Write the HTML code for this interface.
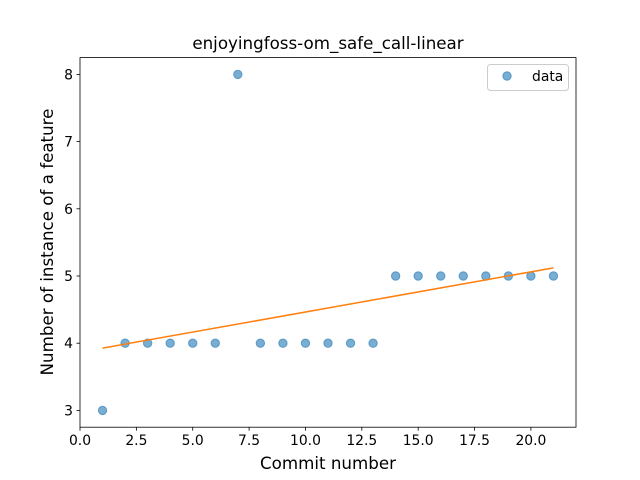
<!DOCTYPE html>
<html><head><meta charset="utf-8"><style>
body{margin:0;background:#fff}
svg{display:block;font-family:"DejaVu Sans","Liberation Sans",sans-serif}
</style></head><body>
<svg id="chart" width="640" height="480"></svg>
<script>
const commits=[1,2,3,4,5,6,7,8,9,10,11,12,13,14,15,16,17,18,19,20,21];
const counts=[3,4,4,4,4,4,8,4,4,4,4,4,4,5,5,5,5,5,5,5,5];
const xTicks=[0,2.5,5,7.5,10,12.5,15,17.5,20];
const xTickLabels=["0.0","2.5","5.0","7.5","10.0","12.5","15.0","17.5","20.0"];
const yTicks=[3,4,5,6,7,8];
const yTickLabels=["3","4","5","6","7","8"];
const L=80,R=576,T=57.6,B=427.2;
const xMin=0,xMax=22,yMin=2.75,yMax=8.25;
const sx=v=>L+(v-xMin)/(xMax-xMin)*(R-L);
const sy=v=>B-(v-yMin)/(yMax-yMin)*(B-T);
const NS="http://www.w3.org/2000/svg";
const svg=document.getElementById('chart');
function mk(t,a,p){const e=document.createElementNS(NS,t);for(const k in a)e.setAttribute(k,a[k]);(p||svg).appendChild(e);return e;}
const frame=mk('rect',{x:L,y:T,width:R-L,height:B-T,fill:'none',stroke:'#000','stroke-width':0.8});


xTicks.forEach((v,i)=>{
  const g=mk('g',{});
  
  
  mk('line',{x1:sx(v),x2:sx(v),y1:B,y2:B+3.5,stroke:'#000','stroke-width':0.8},g);
  const t=mk('text',{x:sx(v),y:B+18,'text-anchor':'middle','font-size':13.9},g);t.textContent=xTickLabels[i];
});
yTicks.forEach((v,i)=>{
  const g=mk('g',{});
  
  
  mk('line',{x1:L-3.5,x2:L,y1:sy(v),y2:sy(v),stroke:'#000','stroke-width':0.8},g);
  const t=mk('text',{x:L-7,y:sy(v)+5,'text-anchor':'end','font-size':13.9},g);t.textContent=yTickLabels[i];
});
commits.forEach((c,i)=>{
  const p=mk('circle',{cx:sx(c),cy:sy(counts[i]),r:4.2,fill:'#1f77b4','fill-opacity':0.6,stroke:'#1f77b4','stroke-opacity':0.6});
  
  
});
const n=commits.length,mx=commits.reduce((a,b)=>a+b)/n,my=counts.reduce((a,b)=>a+b)/n;
let sxy=0,sxx=0;commits.forEach((c,i)=>{sxy+=(c-mx)*(counts[i]-my);sxx+=(c-mx)**2;});
const slope=sxy/sxx,icpt=my-slope*mx;
const x0=commits[0],x1=commits[n-1];
const fit=mk('line',{x1:sx(x0),y1:sy(icpt+slope*x0),x2:sx(x1),y2:sy(icpt+slope*x1),stroke:'#ff7f0e','stroke-width':1.5});


</script>
<svg width="640" height="480" style="position:absolute;left:0;top:0">
<text x="328" y="49" text-anchor="middle" font-size="16.7" font-family="DejaVu Sans, Liberation Sans, sans-serif">enjoyingfoss-om_safe_call-linear</text>
<text x="328" y="469" text-anchor="middle" font-size="16.7" font-family="DejaVu Sans, Liberation Sans, sans-serif">Commit number</text>
<text transform="translate(53,242) rotate(-90)" text-anchor="middle" font-size="16.7" font-family="DejaVu Sans, Liberation Sans, sans-serif">Number of instance of a feature</text>
<g>
<rect x="487.5" y="64.5" width="81" height="26" rx="3" fill="#fff" fill-opacity="0.8" stroke="#ccc"/>
<circle cx="507" cy="76" r="4.2" fill="#1f77b4" fill-opacity="0.6" stroke="#1f77b4" stroke-opacity="0.6"/>
<text x="532" y="81" font-size="13.9" font-family="DejaVu Sans, Liberation Sans, sans-serif">data</text>
</g>
</svg>
</body></html>
